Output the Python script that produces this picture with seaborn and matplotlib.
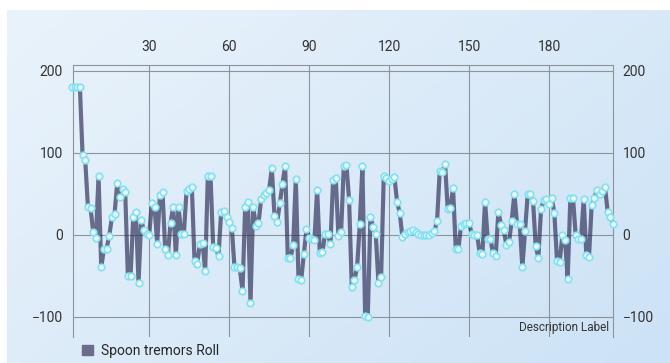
import numpy as np
import pandas as pd
import matplotlib.pyplot as plt
import seaborn as sns
from matplotlib.patches import Patch

# Dados (um valor por amostra, começando em 1)
roll = [
    180, 180, 180, 180, 97, 91, 34, 32, 3, -4,
    72, -40, -18, -17, -2, 21, 25, 63, 46, 56,
    52, -51, -51, 21, 28, -59, 18, 5, 1, 0,
    38, 34, -11, 48, 52, -18, -25, 14, 34, -25,
    34, 1, 1, 53, 56, 58, -32, -36, -11, -10,
    -44, 72, 72, -15, -16, -26, 28, 29, 22, 15,
    8, -40, -40, -41, -69, 34, 40, -83, 34, 11,
    14, 43, 48, 51, 55, 81, 23, 15, 38, 62,
    84, -29, -29, -13, 68, -54, -56, -24, 7, -4,
    -5, -6, 55, -22, -21, 1, 1, -11, 67, 69,
    -2, 3, 84, 85, 42, -64, -55, -40, 13, 84,
    -99, -100, 21, 9, 1, -59, -52, 72, 69, 66,
    68, 70, 40, 26, -3, 1, 3, 4, 5, 3,
    1, 0, 0, -1, 0, 2, 4, 17, 78, 77,
    86, 31, 33, 57, -17, -17, 11, 13, 14, 14,
    1, 0, 0, -23, -24, 40, -5, -5, -23, -26,
    28, 12, 6, -13, -9, 17, 50, 13, 13, -40,
    4, 49, 49, 41, -14, -28, 31, 42, 44, 37,
    45, 26, -32, -33, -1, -6, -54, 45, 45, -1,
    -5, -5, 43, -25, -27, 36, 45, 55, 49, 53,
    58, 28, 21, 13,
]
x_ticks = [30, 60, 90, 120, 150, 180]
y_ticks = [-100, 0, 100, 200]
series_name = "Spoon tremors Roll"
desc_label = "Description Label"

df = pd.DataFrame({"amostra": np.arange(1, len(roll) + 1), "roll": roll})

sns.set_style("white")
plt.rcParams["font.family"] = ["Roboto", "DejaVu Sans"]

fig = plt.figure(figsize=(6.7, 3.63), dpi=100)

# Fundo em degradê azul claro (com margem branca em cima e à esquerda)
bg = fig.add_axes([7 / 670, 0, 1 - 7 / 670, 1 - 10 / 363], zorder=-5)
gx, gy = np.meshgrid(np.linspace(0, 1, 200), np.linspace(0, 1, 100))
t = (gx * 0.6 + gy * 0.4)
c0 = np.array([234, 243, 251]) / 255
c1 = np.array([204, 226, 246]) / 255
img = c0[None, None, :] * (1 - t[..., None]) + c1[None, None, :] * t[..., None]
bg.imshow(img, aspect="auto", extent=[0, 1, 0, 1])
bg.axis("off")

ax = fig.add_axes([72.7 / 670, 1 - 337 / 363, (613 - 72.7) / 670, (337 - 65) / 363])
ax.patch.set_alpha(0)

# Linha semi-transparente + marcadores brancos com borda ciano
sns.lineplot(data=df, x="amostra", y="roll", ax=ax, color=(0.16, 0.16, 0.32, 0.66),
             linewidth=3, clip_on=False, zorder=3)
sns.scatterplot(data=df, x="amostra", y="roll", ax=ax, s=22, color="#f2fcff",
                edgecolor="#84e2f0", linewidth=1.3, clip_on=False, zorder=4)

ax.set_xlim(1.3, 204)
ax.set_ylim(-125, 207)
ax.set_xticks(x_ticks)
ax.set_yticks(y_ticks)
ax.set_xlabel("")
ax.set_ylabel("")

# Eixo x no topo, rótulos de y nos dois lados
ax.xaxis.tick_top()
ax.tick_params(axis="x", length=0, pad=8, labelsize=10, labelcolor="#333333")
ax.tick_params(axis="y", length=0, pad=7, labelsize=10, labelcolor="#333333",
               labelright=True)

ax.grid(True, color="#8d939b", linewidth=0.8)
ax.set_axisbelow(True)
for lado in ["top", "left", "right"]:
    ax.spines[lado].set_visible(True)
    ax.spines[lado].set_color("#8d939b")
    ax.spines[lado].set_linewidth(0.8)
ax.spines["bottom"].set_visible(False)

ax.text(0.993, 0.035, desc_label, transform=ax.transAxes, ha="right", va="center",
        fontsize=8.5, color="#333333")

# Legenda embaixo à esquerda
fig.legend(handles=[Patch(color="#6b6b8c", label=series_name)], loc="center left",
           bbox_to_anchor=(76 / 670, 1 - 351 / 363), frameon=False, fontsize=10,
           handlelength=0.8, handleheight=0.8, handletextpad=0.6, borderaxespad=0)

fig.savefig("out.png", dpi=100)
